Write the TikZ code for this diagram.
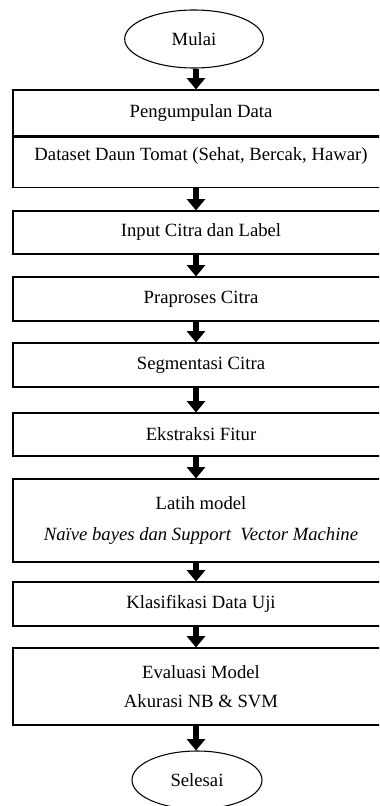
\documentclass[tikz,border=0pt]{standalone}
\usepackage{fontspec}
\setmainfont{Liberation Serif}
\usetikzlibrary{shapes.geometric,arrows.meta}

\tikzset{
    kotak/.style={draw, line width=0.8pt, minimum width=282pt, minimum height=33pt, inner sep=0pt},
    oval/.style={draw, ellipse, line width=0.8pt, minimum width=104pt, minimum height=43.5pt, inner sep=0pt},
    panah/.style={line width=4.5pt, -{Triangle[width=13.5pt,length=8.5pt]}}
}

\begin{document}
\begin{tikzpicture}[x=0.75pt, y=-0.75pt, font=\fontsize{14pt}{17pt}\selectfont]
    \clip (0,0) rectangle (379,806);
    \coordinate (sumbu) at (196,0);

    % Start
    \node[oval] (mulai) at (194,39) {Mulai};

    % Pengumpulan data
    \node[kotak, minimum height=34.5pt] (kumpul) at (201,113) {Pengumpulan Data};
    \node[kotak, anchor=north, minimum height=0pt, text height=17.25pt, text depth=20.25pt] (dataset) at (kumpul.south) {Dataset Daun Tomat (Sehat, Bercak, Hawar)};

    % Steps
    \node[kotak, minimum height=32.25pt] (input) at (201,232.5) {Input Citra dan Label};
    \node[kotak] (praproses) at (201,299) {Praproses Citra};
    \node[kotak] (segmentasi) at (201,365) {Segmentasi Citra};
    \node[kotak, minimum height=32.25pt] (ekstraksi) at (201,434.5) {Ekstraksi Fitur};
    \node[kotak, minimum height=62.25pt, align=center] (latih) at (201,520.5) {Latih model\\[6pt] \textit{Naïve bayes dan Support\ \ Vector Machine}};
    \node[kotak] (klasifikasi) at (201,604) {Klasifikasi Data Uji};
    \node[kotak, minimum height=57.75pt, align=center] (evaluasi) at (201,686.5) {Evaluasi Model\\[5pt] Akurasi NB \& SVM};

    % End
    \node[oval, minimum width=97.5pt] (selesai) at (197,780) {Selesai};

    % Arrows
    \draw[panah] (mulai.south -| sumbu) -- (kumpul.north -| sumbu);
    \draw[panah] (dataset.south -| sumbu) -- (input.north -| sumbu);
    \draw[panah] (input.south -| sumbu) -- (praproses.north -| sumbu);
    \draw[panah] (praproses.south -| sumbu) -- (segmentasi.north -| sumbu);
    \draw[panah] (segmentasi.south -| sumbu) -- (ekstraksi.north -| sumbu);
    \draw[panah] (ekstraksi.south -| sumbu) -- (latih.north -| sumbu);
    \draw[panah] (latih.south -| sumbu) -- (klasifikasi.north -| sumbu);
    \draw[panah] (klasifikasi.south -| sumbu) -- (evaluasi.north -| sumbu);
    \draw[panah] (evaluasi.south -| sumbu) -- (selesai.north -| sumbu);
\end{tikzpicture}
\end{document}
